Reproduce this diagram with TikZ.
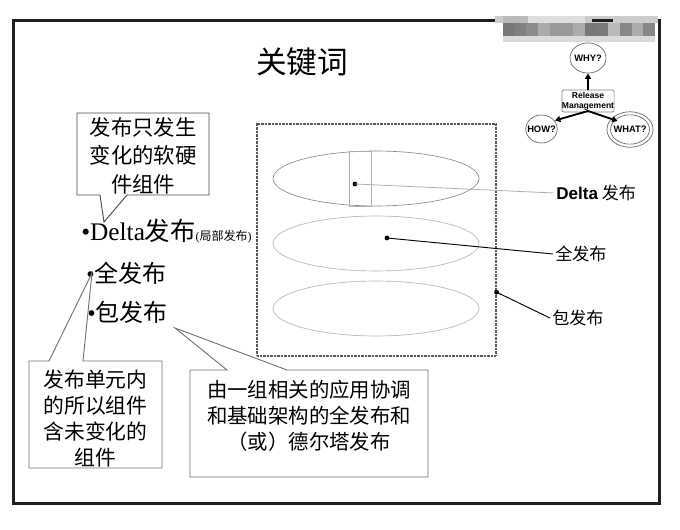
\documentclass[tikz,border=0pt]{standalone}
\usepackage{fontspec}
\setmainfont{Liberation Serif}
\newfontfamily\cjk{Noto Sans CJK SC}
\newfontfamily\arial{Liberation Sans}
\usetikzlibrary{calc,arrows.meta}
\tikzset{
  calloutline/.style={draw=black!55, line width=0.7pt, fill=white},
  ctext/.style={align=center, inner sep=0pt, font=\cjk\fontsize{15.6}{20.5}\selectfont},
  ring/.style={draw=black!60, line width=0.5pt},
  logotext/.style={font=\arial\bfseries\fontsize{7}{7.5}\selectfont, inner sep=0pt},
  logoarrow/.style={line width=1.4pt, -{Triangle[length=4pt,width=4.5pt]}},
  layer/.style={draw=black!45, line width=0.5pt},
  rlabel/.style={anchor=west, inner sep=1.5pt, font=\cjk\fontsize{12.8}{14}\selectfont},
  bullettext/.style={anchor=base west, inner sep=0pt, font=\fontsize{18}{20}\selectfont},
  dotmark/.style={fill=black},
}
\begin{document}
\begin{tikzpicture}[x=0.75pt,y=-0.75pt]
\useasboundingbox (0,0) rectangle (680,530);
\fill[white] (0,0) rectangle (680,530);

% frame
\draw[line width=1.6pt, black!88] (13.5,20.5) rectangle (659.5,503.5);

% blurred logo strip
\fill[white!80!black] (495,16) rectangle (503,23);
\fill[white!73!black] (503,16) rectangle (528,23);
\fill[white!87!black] (528,16) rectangle (585,23);
\fill[white!80!black] (585,16) rectangle (658,23);
\foreach \L [count=\i from 0] in {47,50,55,67,60,60,67,47,48,73,53,67,53}{
  \fill[white!\L!black] ({503+11.7*\i},23) rectangle ({503+11.7*(\i+1)},36);
}
\fill[white!86!black] (503,36) rectangle (655,42);
\draw[line width=1.6pt, black!88] (592,20.5) -- (613,20.5);
\draw[line width=1.6pt, black!88] (659.5,19) -- (659.5,45);

% title
\node[font=\cjk\fontsize{23}{23}\selectfont, inner sep=0pt] (title) at (302,62) {关键词};

% logo
\draw[ring] (588,58) ellipse [x radius=13.5pt, y radius=11.3pt];
\node[logotext] (why) at (588,58) {WHY?};
\draw[ring] (541.5,129) ellipse [x radius=11.8pt, y radius=10.5pt];
\node[logotext] (how) at (541.5,129) {HOW?};
\draw[ring] (630,129.5) ellipse [x radius=17.3pt, y radius=13.3pt];
\draw[ring] (630,129.5) ellipse [x radius=14.6pt, y radius=11pt];
\node[logotext] (what) at (630,129.5) {WHAT?};
\node[draw=black!50, line width=0.5pt, rounded corners=1.5pt, fill=white,
      minimum width=37.5pt, minimum height=16.5pt, inner sep=0pt, align=center,
      font=\arial\bfseries\fontsize{6.4}{7.6}\selectfont] (rm) at (588,101) {Release\\Management};
\coordinate (rmb) at (588,111);
\draw[logoarrow] (rm.north) -- (588,73.5);
\draw[logoarrow] (rmb) -- (555,120.5);
\draw[logoarrow] (rmb) -- (617.5,121);

% package box with layers
\node[draw=black!65, line width=0.8pt, dash pattern=on 0.6pt off 0.45pt,
      minimum width=179.25pt, minimum height=174pt, inner sep=0pt] (pkg) at (376.5,240) {};
\draw[layer] (376,178.5) ellipse [x radius=77.25pt, y radius=20.6pt];
\draw[layer, draw=black!28] (376,243.5) ellipse [x radius=77.25pt, y radius=20.6pt];
\draw[layer, draw=black!28] (376,308.5) ellipse [x radius=77.25pt, y radius=20.6pt];
\draw[layer, draw=black!32] (349,151) rectangle (371,206);

\coordinate (dDelta) at (355,184);
\coordinate (dFull) at (387,238);
\coordinate (dPkg) at ($(pkg.north east)!0.724!(pkg.south east)$);
\fill[dotmark] (dDelta) circle[radius=1.8pt];
\fill[dotmark] (dFull) circle[radius=1.8pt];
\fill[dotmark] (dPkg) circle[radius=1.8pt];

\node[rlabel] (lDelta) at (554,193) {{\arial\bfseries Delta} 发布};
\node[rlabel] (lFull) at (553,254) {全发布};
\node[rlabel] (lPkg) at (550,318) {包发布};
\draw[black!30, line width=0.6pt] (dDelta) -- (lDelta.west);
\draw[black, line width=0.7pt] (dFull) -- (lFull.west);
\draw[black, line width=0.7pt] (dPkg) -- (lPkg.west);

% bullet list
\node[bullettext, font=\fontsize{19}{21}\selectfont] (bDelta) at (81,241) {•Delta{\cjk 发布}{\fontsize{9}{9}\selectfont(\cjk 局部发布\rmfamily)}};
\node[bullettext] (bFull) at (86,282) {•{\cjk 全发布}};
\node[bullettext] (bPkg) at (87,321) {•{\cjk 包发布}};

% callout 1
\coordinate (t1) at (104,222);
\draw[calloutline, draw=black!70] (77,113) -- (209,113) -- (209,195) -- (127,195) -- (t1) -- (100,195) -- (77,195) -- cycle;
\node[ctext, font=\cjk\fontsize{16}{21.4}\selectfont] (c1) at (143,155.5) {发布只发生\\变化的软硬\\件组件};

% callout 2
\coordinate (t2) at (92,273);
\draw[calloutline] (29,361) -- (49,361) -- (t2) -- (83,361) -- (162,361) -- (162,468) -- (29,468) -- cycle;
\node[ctext, font=\cjk\fontsize{15.6}{19.5}\selectfont] (c2) at (95.5,418.5) {发布单元内\\的所以组件\\含未变化的\\组件};

% callout 3
\coordinate (t3) at (175,328);
\draw[calloutline] (190,370) -- (227,370) -- (t3) -- (287,370) -- (428,370) -- (428,477) -- (190,477) -- cycle;
\node[ctext, font=\cjk\fontsize{15.3}{19.5}\selectfont] (c3) at (309,415.5) {由一组相关的应用协调\\和基础架构的全发布和\\（或）德尔塔发布};

\end{tikzpicture}
\end{document}
